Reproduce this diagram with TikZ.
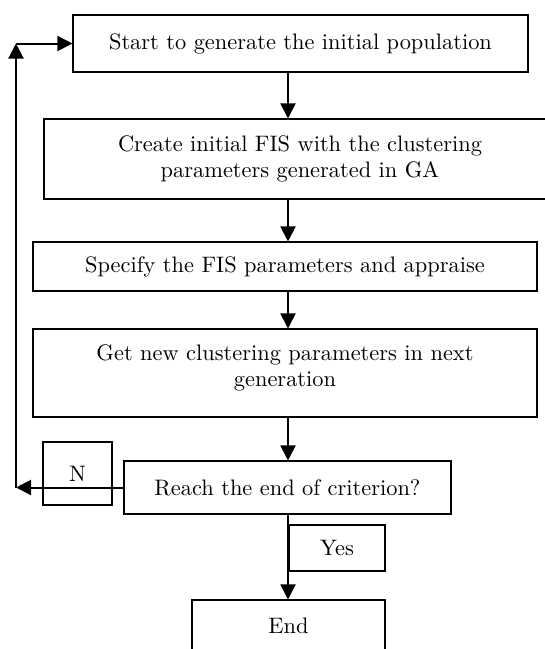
\documentclass[tikz,border=0pt]{standalone}
\usepackage{fontspec}
\newfontfamily\tenrm{lmroman10-regular}[Extension=.otf]
\usetikzlibrary{arrows.meta}
\begin{document}
\begin{tikzpicture}[x=1pt, y=-1pt,
  box/.style={draw, line width=1.1pt, align=center, inner sep=0pt, font=\tenrm\fontsize{22.4}{26}\selectfont},
  arrow/.style={line width=2pt, -{Triangle[length=15pt,width=15pt]}}]
\useasboundingbox (0,0) rectangle (545,649);
% Steps
\node[box, minimum width=455pt, minimum height=57pt] (start) at (300.5,43.5) {Start to generate the initial population};
\node[box, minimum width=512pt, minimum height=80pt] (create) at (300,159) {Create initial FIS with the clustering\\parameters generated in GA};
\node[box, minimum width=504pt, minimum height=49pt] (specify) at (285,266.5) {Specify the FIS parameters and appraise};
\node[box, minimum width=504pt, minimum height=88pt, text depth=14pt] (getnew) at (285,373) {Get new clustering parameters in next\\generation};
\node[box, minimum width=327pt, minimum height=53pt] (reach) at (287.5,487.5) {Reach the end of criterion?};
\node[box, minimum width=193pt, minimum height=52pt] (end) at (288.5,626) {End};

% Answers
\node[box, minimum width=69pt, minimum height=63pt] (no) at (77.5,473.5) {N};
\node[box, minimum width=96pt, minimum height=46pt] (yes) at (337,548) {Yes};

% Arrows
\coordinate (ax) at (288,0);
\coordinate (fb) at (16,0);
\draw[arrow] (start.south -| ax) -- (create.north -| ax);
\draw[arrow] (create.south -| ax) -- (specify.north -| ax);
\draw[arrow] (specify.south -| ax) -- (getnew.north -| ax);
\draw[arrow] (getnew.south -| ax) -- (reach.north -| ax);
\draw[arrow] (reach.south -| ax) -- (end.north -| ax);

% Loop back
\draw[arrow] (reach.west) -- (reach.west -| fb);
\draw[arrow] (reach.west -| fb) -- (start.west -| fb);
\draw[arrow] (start.west -| fb) -- (start.west);
\end{tikzpicture}
\end{document}
